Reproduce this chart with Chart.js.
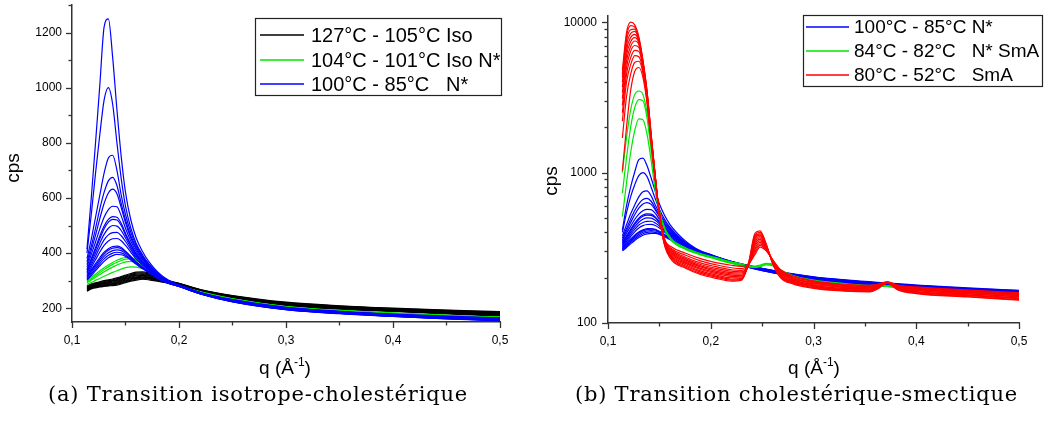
<!DOCTYPE html>
<html>
<head>
<meta charset="utf-8">
<script src="https://cdn.jsdelivr.net/npm/chart.js@4.4.1/dist/chart.umd.min.js"></script>
<style>
  body { margin: 0; background: #fff; width: 1050px; height: 424px; position: relative; overflow: hidden;
         font-family: "Liberation Sans", Arial, sans-serif; color: #000; }
  canvas { position: absolute; top: 0; }
  #chartA { left: 0; }
  #chartB { left: 525px; }
  .ylab { position: absolute; width: 60px; height: 22px; line-height: 22px; font-size: 19px;
          text-align: center; transform: rotate(-90deg); }
  .xlab { position: absolute; width: 120px; line-height: 22px; font-size: 19px; text-align: center; white-space: nowrap; }
  .xlab span { font-size: 12px; position: relative; top: -8px; }
  .cap { position: absolute; font-family: "DejaVu Serif", serif; font-size: 21px; line-height: 24px; white-space: nowrap; }
</style>
</head>
<body>
<canvas id="chartA" width="525" height="424"></canvas>
<canvas id="chartB" width="525" height="424"></canvas>
<div class="ylab" style="left:-17px; top:157px">cps</div>
<div class="ylab" style="left:521px; top:170px">cps</div>
<div class="xlab" style="left:225px; top:357px">q (Å<span>-1</span>)</div>
<div class="xlab" style="left:754px; top:357px">q (Å<span>-1</span>)</div>
<div class="cap" data-w="420" style="left:48px; top:382px">(a) Transition isotrope-cholestérique</div>
<div class="cap" data-w="443" style="left:575px; top:382px">(b) Transition cholestérique-smectique</div>

<script>
// q grid (Å-1) of the isotropic / cholesteric scans
const qIso = [0.114, 0.118, 0.122, 0.126, 0.130, 0.134, 0.138, 0.142, 0.146, 0.150, 0.155, 0.160,
              0.166, 0.172, 0.180, 0.190, 0.200, 0.220, 0.250, 0.300, 0.350, 0.400, 0.450, 0.500];

// 127°C - 105°C Iso
const blackIso = [
  [280, 288, 292, 296, 300, 303, 306, 310, 315, 320, 326, 331, 332, 328, 316, 300, 290, 268, 246, 222, 209, 200, 193, 188],
  [278, 286, 290, 293, 297, 300, 303, 307, 312, 317, 322, 327, 328, 324, 314, 299, 289, 267, 245, 220, 208, 199, 192, 186],
  [276, 284, 288, 291, 294, 297, 300, 304, 309, 314, 319, 324, 325, 321, 312, 298, 289, 266, 244, 218, 206, 197, 190, 184],
  [274, 282, 286, 289, 292, 295, 298, 301, 306, 311, 316, 320, 322, 319, 310, 297, 288, 266, 243, 216, 205, 196, 189, 182],
  [272, 280, 284, 287, 290, 292, 295, 298, 303, 308, 313, 317, 319, 316, 308, 296, 288, 265, 242, 214, 203, 195, 187, 180],
  [270, 278, 282, 285, 287, 290, 292, 295, 300, 305, 310, 314, 316, 313, 306, 295, 287, 265, 241, 212, 201, 193, 186, 178],
  [268, 276, 280, 283, 285, 287, 289, 292, 297, 302, 307, 311, 313, 311, 304, 294, 287, 264, 240, 210, 200, 192, 184, 176],
  [266, 274, 278, 281, 283, 285, 287, 290, 294, 299, 304, 308, 310, 308, 302, 293, 286, 264, 239, 208, 198, 190, 182, 174],
  [264, 272, 276, 279, 281, 283, 285, 287, 291, 296, 301, 305, 307, 306, 300, 292, 286, 263, 238, 206, 197, 189, 181, 172],
  [262, 270, 274, 277, 279, 281, 282, 284, 288, 293, 298, 302, 305, 303, 298, 291, 285, 263, 237, 205, 196, 188, 179, 171]
];

// 104°C - 101°C Iso N*
const greenIso = [
  [300, 312, 324, 336, 347, 357, 366, 374, 380, 384, 384, 376, 362, 346, 322, 297, 282, 258, 233, 205, 191, 181, 173, 167],
  [296, 307, 318, 329, 340, 350, 359, 367, 373, 378, 380, 373, 360, 345, 321, 297, 282, 258, 233, 205, 191, 181, 173, 167],
  [292, 302, 312, 322, 332, 341, 349, 357, 363, 368, 370, 366, 355, 342, 320, 296, 282, 259, 234, 206, 192, 182, 174, 168],
  [286, 293, 301, 308, 316, 323, 330, 336, 342, 347, 350, 349, 343, 334, 316, 295, 282, 259, 234, 206, 192, 182, 174, 168]
];

// 100°C - 85°C N*  (same scans in both panels)
const blueChol = [
  [415, 600, 800, 1010, 1220, 1250, 1110, 920, 750, 620, 520, 455, 405, 368, 332, 302, 285, 257, 231, 203, 189, 179, 171, 165],
  [400, 540, 690, 830, 955, 1000, 940, 800, 670, 570, 490, 435, 393, 360, 328, 300, 284, 257, 230, 202, 188, 178, 170, 164],
  [380, 450, 530, 610, 690, 745, 755, 700, 610, 540, 475, 428, 388, 357, 326, 299, 284, 256, 230, 201, 187, 177, 169, 163],
  [368, 425, 490, 560, 620, 662, 675, 645, 580, 520, 462, 420, 383, 354, 324, 298, 283, 256, 229, 201, 187, 176, 168, 162],
  [358, 410, 465, 525, 580, 618, 632, 615, 565, 510, 455, 414, 380, 352, 322, 297, 283, 255, 229, 200, 186, 176, 168, 161],
  [350, 395, 440, 488, 530, 558, 570, 568, 535, 490, 443, 406, 375, 349, 320, 296, 282, 255, 228, 200, 185, 175, 167, 161],
  [342, 380, 420, 462, 498, 522, 532, 530, 508, 472, 432, 398, 370, 346, 318, 295, 282, 255, 228, 199, 185, 174, 166, 160],
  [338, 374, 412, 452, 488, 512, 522, 520, 500, 466, 428, 395, 368, 345, 317, 295, 282, 254, 227, 199, 184, 174, 166, 159],
  [332, 365, 400, 436, 468, 490, 500, 498, 482, 455, 420, 390, 364, 342, 316, 294, 281, 254, 227, 198, 184, 173, 165, 159],
  [328, 357, 388, 420, 448, 466, 474, 475, 463, 442, 412, 384, 360, 340, 314, 293, 281, 254, 226, 198, 183, 173, 164, 158],
  [322, 348, 376, 404, 428, 444, 452, 453, 445, 428, 403, 378, 356, 337, 313, 293, 280, 253, 226, 197, 183, 172, 164, 157],
  [318, 340, 362, 384, 403, 416, 424, 425, 420, 407, 388, 368, 349, 333, 311, 292, 280, 253, 225, 197, 182, 172, 163, 157],
  [314, 335, 356, 377, 396, 410, 418, 420, 416, 404, 386, 367, 348, 332, 311, 292, 280, 253, 225, 196, 182, 171, 163, 156],
  [310, 330, 350, 370, 388, 401, 409, 412, 409, 399, 383, 365, 347, 331, 310, 291, 279, 252, 224, 196, 181, 171, 162, 155],
  [306, 324, 343, 362, 379, 392, 400, 403, 401, 393, 379, 362, 345, 330, 309, 291, 279, 252, 224, 195, 181, 170, 162, 155],
  [302, 318, 336, 354, 370, 383, 391, 395, 394, 388, 375, 359, 343, 329, 308, 290, 279, 252, 223, 195, 180, 170, 161, 154]
];

// q grid of the smectic scans
const qSmec = [0.114, 0.118, 0.122, 0.126, 0.130, 0.134, 0.138, 0.142, 0.146, 0.150, 0.155,
               0.162, 0.175, 0.190, 0.205, 0.220, 0.230, 0.237, 0.243, 0.248, 0.254, 0.260,
               0.268, 0.280, 0.300, 0.330, 0.355, 0.362, 0.372, 0.382, 0.400, 0.450, 0.500];

// 84°C - 82°C N* SmA
const greenSmec = [
  [1000, 1700, 2600, 3300, 3490, 3300, 2500, 1500, 850, 560, 430, 360, 318, 290, 272, 255, 247, 240, 239, 243, 249, 247, 226, 207, 193, 183, 178, 178, 177, 174, 170, 162, 155],
  [730, 1250, 2000, 2700, 3060, 3000, 2300, 1400, 820, 555, 425, 355, 314, 287, 269, 252, 244, 238, 237, 240, 246, 244, 224, 205, 191, 181, 176, 176, 176, 172, 168, 160, 153],
  [510, 850, 1350, 1900, 2280, 2250, 1800, 1200, 760, 545, 420, 350, 310, 284, 266, 249, 241, 236, 234, 237, 243, 241, 222, 204, 190, 180, 175, 175, 175, 171, 167, 159, 152]
];

// 80°C - 52°C SmA
const redSmec = [
  [4800, 8500, 10000, 9600, 8000, 5600, 3500, 1800, 950, 520, 330, 262, 232, 210, 198, 190, 193, 255, 395, 410, 335, 250, 200, 182, 170, 163, 161, 168, 184, 166, 157, 149, 142],
  [4500, 8000, 9500, 9300, 7800, 5500, 3450, 1780, 945, 522, 333, 267, 236, 214, 202, 193, 195, 252, 385, 400, 332, 252, 202, 184, 172, 164, 162, 169, 184, 167, 158, 150, 143],
  [4300, 7500, 8900, 9000, 7700, 5450, 3400, 1760, 940, 525, 336, 272, 240, 218, 205, 196, 197, 250, 375, 392, 329, 254, 204, 186, 174, 166, 164, 170, 185, 168, 160, 152, 145],
  [4000, 7000, 8400, 8700, 7600, 5400, 3350, 1740, 935, 527, 339, 276, 245, 222, 209, 200, 200, 248, 365, 384, 326, 256, 206, 188, 175, 167, 165, 171, 185, 169, 161, 153, 146],
  [3700, 6500, 7900, 8300, 7450, 5350, 3300, 1720, 930, 530, 342, 281, 250, 227, 213, 204, 203, 247, 355, 376, 323, 258, 208, 190, 177, 169, 166, 172, 185, 170, 162, 154, 147],
  [3400, 6000, 7400, 7900, 7300, 5300, 3250, 1700, 925, 532, 345, 286, 254, 231, 217, 208, 207, 246, 345, 368, 320, 259, 210, 192, 179, 170, 168, 173, 186, 171, 164, 156, 149],
  [3100, 5500, 6900, 7500, 7100, 5250, 3200, 1680, 920, 535, 348, 291, 259, 236, 221, 212, 211, 246, 335, 360, 317, 260, 213, 194, 181, 172, 169, 174, 186, 172, 165, 157, 150],
  [2800, 5000, 6400, 7000, 6800, 5150, 3150, 1660, 915, 537, 351, 296, 264, 240, 226, 216, 215, 245, 325, 352, 314, 261, 215, 196, 183, 173, 171, 175, 186, 173, 167, 159, 152],
  [2500, 4500, 5800, 6500, 6400, 5000, 3100, 1640, 910, 540, 354, 301, 269, 245, 231, 221, 219, 245, 315, 344, 311, 262, 218, 198, 185, 175, 172, 176, 187, 174, 168, 160, 153],
  [2200, 4000, 5200, 6000, 5900, 4800, 3050, 1620, 905, 542, 357, 306, 275, 251, 237, 226, 224, 245, 305, 336, 308, 263, 220, 200, 187, 177, 174, 177, 187, 175, 170, 162, 155],
  [1700, 3200, 4500, 5400, 5500, 4600, 3000, 1600, 900, 545, 360, 312, 283, 259, 244, 233, 230, 246, 295, 328, 305, 264, 223, 203, 189, 179, 176, 179, 187, 177, 172, 164, 157],
  [1030, 2000, 3500, 4700, 5000, 4300, 2900, 1580, 895, 548, 363, 320, 292, 268, 252, 242, 238, 248, 285, 320, 302, 265, 226, 206, 191, 181, 178, 181, 188, 179, 174, 166, 159]
];

const xLabels = [0.1, 0.2, 0.3, 0.4, 0.5];
const yLabelsA = [200, 400, 600, 800, 1000, 1200];
const yLabelsB = [100, 1000, 10000];
const legendA = ['127°C - 105°C Iso', '104°C - 101°C Iso N*', '100°C - 85°C   N*'];
const legendB = ['100°C - 85°C N*', '84°C - 82°C   N* SmA', '80°C - 52°C   SmA'];

const BLACK = '#000000', GREEN = '#00e600', BLUE = '#0000ff', RED = '#ff0000';
const AXIS = '#333333';

Chart.defaults.font.family = '"Liberation Sans", Arial, sans-serif';
Chart.defaults.font.size = 12;
Chart.defaults.color = '#000';

function curves(q, rows, color, order) {
  return rows.map(r => ({
    data: r.map((v, i) => ({ x: q[i], y: v })),
    borderColor: color,
    borderWidth: 1.2,
    pointRadius: 0,
    fill: false,
    order: order,
    cubicInterpolationMode: 'monotone'
  }));
}

// ticks marks drawn outside the plot, long for labelled values, short otherwise
function axisTicks(yKind) {
  return {
    id: 'axisTicks',
    afterDraw(chart) {
      const ctx = chart.ctx, area = chart.chartArea;
      const xs = chart.scales.x, ys = chart.scales.y;
      ctx.save();
      ctx.strokeStyle = AXIS;
      ctx.lineWidth = 1.3;
      xs.ticks.forEach(t => {
        const k = Math.round(t.value * 100);
        if (k % 5) return;
        const len = k % 10 === 0 ? 6 : 3.5;
        const px = Math.round(xs.getPixelForValue(t.value)) + 0.5;
        ctx.beginPath(); ctx.moveTo(px, area.bottom); ctx.lineTo(px, area.bottom + len); ctx.stroke();
      });
      ys.ticks.forEach(t => {
        const v = t.value;
        let len = 0;
        if (yKind === 'lin') {
          if (v % 200 === 0) len = 6; else if (v % 100 === 0) len = 3.5;
        } else {
          const e = Math.floor(Math.log10(v) + 1e-9);
          const s = v / Math.pow(10, e);
          if (Math.abs(s - Math.round(s)) < 1e-6) len = Math.round(s) === 1 ? 6 : 3.5;
        }
        if (!len) return;
        const py = Math.round(ys.getPixelForValue(v)) + 0.5;
        ctx.beginPath(); ctx.moveTo(area.left, py); ctx.lineTo(area.left - len, py); ctx.stroke();
      });
      ctx.restore();
    }
  };
}

function boxLegend(labels, colors, box) {
  return {
    id: 'boxLegend',
    afterDraw(chart) {
      const ctx = chart.ctx;
      ctx.save();
      ctx.fillStyle = '#fff';
      ctx.fillRect(box.x, box.y, box.w, box.h);
      ctx.strokeStyle = '#222';
      ctx.lineWidth = 1.2;
      ctx.strokeRect(box.x + 0.5, box.y + 0.5, box.w, box.h);
      ctx.font = box.font + 'px "Liberation Sans", Arial, sans-serif';
      ctx.textBaseline = 'middle';
      ctx.textAlign = 'left';
      labels.forEach((lab, i) => {
        const y = box.rows[i];
        ctx.strokeStyle = colors[i];
        ctx.lineWidth = 1.5;
        ctx.beginPath(); ctx.moveTo(box.s0, y); ctx.lineTo(box.s1, y); ctx.stroke();
        ctx.fillStyle = '#000';
        ctx.fillText(lab, box.tx, y + 1);
      });
      ctx.restore();
    }
  };
}

function xScale() {
  return {
    type: 'linear', min: 0.1, max: 0.5,
    ticks: {
      stepSize: 0.05, autoSkip: false, maxRotation: 0, padding: 11,
      callback: v => {
        const r = Math.round(v * 100) / 100;
        return xLabels.includes(r) ? r.toFixed(1).replace('.', ',') : '';
      }
    },
    grid: { display: false, drawTicks: false },
    border: { display: true, color: AXIS, width: 1.5 },
    afterFit: s => { s.height = 30; }
  };
}

new Chart(document.getElementById('chartA'), {
  type: 'line',
  data: {
    datasets: [
      ...curves(qIso, blackIso, BLACK, 3),
      ...curves(qIso, greenIso, GREEN, 2),
      ...curves(qIso, blueChol, BLUE, 1)
    ]
  },
  options: {
    responsive: false, animation: false,
    layout: { padding: { left: 0, right: 25, top: 5, bottom: 72 } },
    plugins: { legend: { display: false }, tooltip: { enabled: false } },
    scales: {
      x: xScale(),
      y: {
        type: 'linear', min: 150, max: 1300,
        ticks: {
          stepSize: 100, autoSkip: false, padding: 10,
          callback: v => yLabelsA.includes(v) ? String(v) : ''
        },
        grid: { display: false, drawTicks: false },
        border: { display: true, color: AXIS, width: 1.5 },
        afterFit: s => { s.width = 72; s.paddingTop = 0; s.paddingBottom = 0; }
      }
    }
  },
  plugins: [axisTicks('lin'),
            boxLegend(legendA, [BLACK, GREEN, BLUE],
                      { x: 255, y: 18, w: 246, h: 77, rows: [35, 60, 84], s0: 260, s1: 304, tx: 311, font: 20 })]
});

new Chart(document.getElementById('chartB'), {
  type: 'line',
  data: {
    datasets: [
      ...curves(qIso, blueChol, BLUE, 3),
      ...curves(qSmec, greenSmec, GREEN, 2),
      ...curves(qSmec, redSmec, RED, 1)
    ]
  },
  options: {
    responsive: false, animation: false,
    layout: { padding: { left: 0, right: 31, top: 16, bottom: 71 } },
    plugins: { legend: { display: false }, tooltip: { enabled: false } },
    scales: {
      x: xScale(),
      y: {
        type: 'logarithmic', min: 100, max: 11000,
        ticks: {
          autoSkip: false, padding: 11,
          callback: v => yLabelsB.includes(Math.round(v)) ? String(Math.round(v)) : ''
        },
        grid: { display: false, drawTicks: false },
        border: { display: true, color: AXIS, width: 1.5 },
        afterFit: s => { s.width = 83; s.paddingTop = 0; s.paddingBottom = 0; }
      }
    }
  },
  plugins: [axisTicks('log'),
            boxLegend(legendB, [BLUE, GREEN, RED],
                      { x: 278, y: 15, w: 239, h: 71, rows: [27, 51, 75], s0: 281, s1: 324, tx: 329, font: 19 })]
});

// stretch the captions to the width they take in the figure
document.querySelectorAll('.cap').forEach(el => {
  const target = +el.dataset.w;
  const w = el.getBoundingClientRect().width;
  el.style.letterSpacing = ((target - w) / el.textContent.length) + 'px';
});
</script>
</body>
</html>
